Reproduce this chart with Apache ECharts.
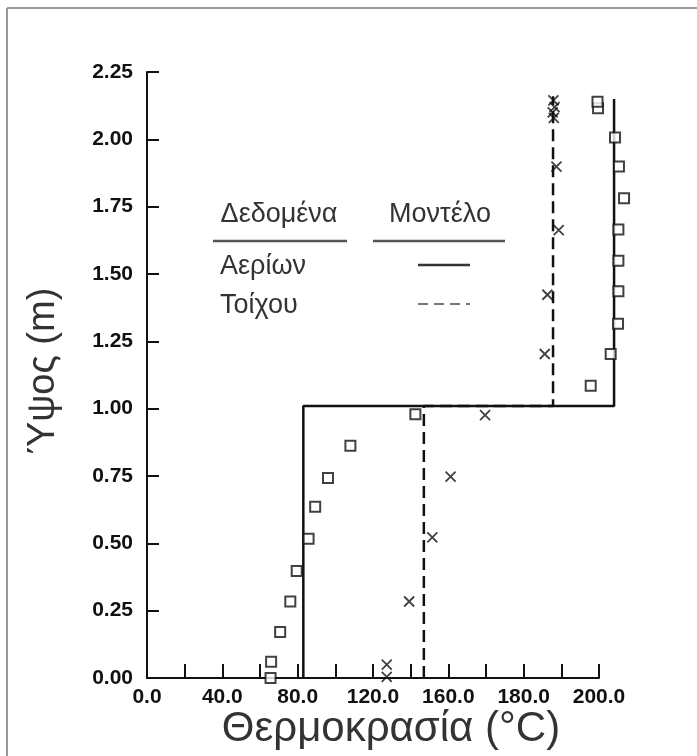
<!DOCTYPE html>
<html>
<head>
<meta charset="utf-8">
<script src="https://cdn.jsdelivr.net/npm/echarts@6/dist/echarts.min.js"></script>
<style>
  html, body { margin: 0; padding: 0; background: #fff; }
  #chart { width: 697px; height: 756px; }
</style>
</head>
<body>
<div id="chart"></div>
<script>
// Temperature axis: ticks every 20 units, labels only on some of them
const xTickValues = [0, 40, 80, 120, 160, 200, 240];
const xTickLabels = ['0.0', '40.0', '80.0', '120.0', '160.0', '180.0', '200.0'];
const yTickValues = [0, 0.25, 0.5, 0.75, 1, 1.25, 1.5, 1.75, 2, 2.25];

// Model profiles [temperature, height]
const gasModel = [[83, 0], [83, 1.01], [248, 1.01], [248, 2.15]];
const wallModel = [[147, 0], [147, 1.01], [215.6, 1.01], [215.6, 2.16]];

// Measured gas temperatures (squares)
const gasData = [
  [65.6, 0.0], [65.9, 0.06], [70.7, 0.171], [76.1, 0.284], [79.5, 0.397],
  [85.8, 0.517], [89.3, 0.636], [96.1, 0.743], [108, 0.862], [142.5, 0.979],
  [235.6, 1.085], [246.2, 1.203], [250.1, 1.315], [250.3, 1.436], [250.3, 1.549],
  [250.3, 1.665], [253.3, 1.781], [250.6, 1.899], [248.5, 2.007], [239.5, 2.115],
  [239.2, 2.14]
];

// Measured wall temperatures (crosses)
const wallData = [
  [127.3, 0.004], [127.3, 0.05], [139.2, 0.284], [151.5, 0.522], [161.2, 0.748],
  [179.5, 0.976], [211.2, 1.203], [212.6, 1.423], [218.6, 1.663], [217.4, 1.899],
  [216, 2.08], [215.4, 2.1], [216.4, 2.12], [215.8, 2.145]
];

const ink = '#111';
const axisMax = 240;       // drawn axis range
const plotMax = 260;       // data range (the upper profiles run past the drawn axis)
const plotLeft = 147, axisWidth = 452;

const chart = echarts.init(document.getElementById('chart'));

const hiddenAxis = {
  show: false, axisLine: { show: false }, axisTick: { show: false },
  axisLabel: { show: false }, splitLine: { show: false }
};

chart.setOption({
  animation: false,
  backgroundColor: '#fff',
  grid: [
    { left: plotLeft, width: axisWidth, top: 72, bottom: 78 },
    { left: plotLeft, width: axisWidth * plotMax / axisMax, top: 72, bottom: 78 }
  ],
  xAxis: [
    {
      gridIndex: 0, type: 'value', min: 0, max: axisMax, interval: 20,
      axisLine: { show: true, onZero: false, lineStyle: { color: ink, width: 2 } },
      axisTick: { show: true, inside: true, length: 14, lineStyle: { color: ink, width: 2 } },
      splitLine: { show: false },
      axisLabel: {
        margin: 9, color: ink, fontFamily: 'Liberation Sans', fontWeight: 'bold', fontSize: 21,
        showMinLabel: true, showMaxLabel: true,
        formatter: v => { const i = xTickValues.indexOf(v); return i >= 0 ? xTickLabels[i] : ''; }
      }
    },
    Object.assign({ gridIndex: 1, type: 'value', min: 0, max: plotMax }, hiddenAxis)
  ],
  yAxis: [
    {
      gridIndex: 0, type: 'value', min: 0, max: 2.25, interval: 0.25,
      axisLine: { show: true, onZero: false, lineStyle: { color: ink, width: 2 } },
      axisTick: { show: true, inside: true, length: 12, lineStyle: { color: ink, width: 2 } },
      splitLine: { show: false },
      axisLabel: {
        margin: 14, color: ink, fontFamily: 'Liberation Sans', fontWeight: 'bold', fontSize: 21,
        showMinLabel: true, showMaxLabel: true,
        formatter: v => yTickValues.indexOf(v) >= 0 ? v.toFixed(2) : ''
      }
    },
    Object.assign({ gridIndex: 1, type: 'value', min: 0, max: 2.25 }, hiddenAxis)
  ],
  series: [
    {
      name: 'Τοίχου (Μοντέλο)', type: 'line', xAxisIndex: 1, yAxisIndex: 1,
      data: wallModel, symbol: 'none', clip: false,
      lineStyle: { color: ink, width: 2.5, type: [12, 6] }, z: 2
    },
    {
      name: 'Αερίων (Μοντέλο)', type: 'line', xAxisIndex: 1, yAxisIndex: 1,
      data: gasModel, symbol: 'none', clip: false,
      lineStyle: { color: ink, width: 2.5 }, z: 3
    },
    {
      name: 'Αερίων', type: 'scatter', xAxisIndex: 1, yAxisIndex: 1,
      data: gasData, clip: false, symbol: 'rect', symbolSize: 10,
      itemStyle: { color: '#fff', borderColor: ink, borderWidth: 2 }, z: 4
    },
    {
      name: 'Τοίχου', type: 'scatter', xAxisIndex: 1, yAxisIndex: 1,
      data: wallData, clip: false, symbol: 'path://M0,0L10,10M10,0L0,10', symbolSize: 10,
      itemStyle: { color: 'none', borderColor: ink, borderWidth: 1.8 }, z: 4
    }
  ],
  graphic: [
    // frame
    { type: 'line', shape: { x1: 7, y1: 8, x2: 697, y2: 8 }, style: { stroke: '#9a9a9a', lineWidth: 2 } },
    { type: 'line', shape: { x1: 7, y1: 8, x2: 7, y2: 756 }, style: { stroke: '#9a9a9a', lineWidth: 2 } },
    // axis titles
    {
      type: 'text', x: 391, y: 729,
      style: { text: 'Θερμοκρασία (°C)', font: '42px "Liberation Sans"', fill: '#333', align: 'center', verticalAlign: 'middle' }
    },
    {
      type: 'text', x: 44, y: 371, rotation: Math.PI / 2,
      style: { text: 'Ύψος (m)', font: '38px "Liberation Sans"', fill: '#333', align: 'center', verticalAlign: 'middle' }
    },
    // key table
    { type: 'text', x: 279, y: 215, style: { text: 'Δεδομένα', font: '27px "Liberation Sans"', fill: '#333', align: 'center', verticalAlign: 'middle' } },
    { type: 'text', x: 440, y: 215, style: { text: 'Μοντέλο', font: '27px "Liberation Sans"', fill: '#333', align: 'center', verticalAlign: 'middle' } },
    { type: 'line', shape: { x1: 213, y1: 241, x2: 347, y2: 241 }, style: { stroke: '#555', lineWidth: 2.5 } },
    { type: 'line', shape: { x1: 373, y1: 241, x2: 505, y2: 241 }, style: { stroke: '#555', lineWidth: 2.5 } },
    { type: 'text', x: 220, y: 267, style: { text: 'Αερίων', font: '27px "Liberation Sans"', fill: '#333', align: 'left', verticalAlign: 'middle' } },
    { type: 'text', x: 220, y: 306, style: { text: 'Τοίχου', font: '27px "Liberation Sans"', fill: '#333', align: 'left', verticalAlign: 'middle' } },
    { type: 'line', shape: { x1: 418, y1: 265, x2: 470, y2: 265 }, style: { stroke: '#333', lineWidth: 2.5 } },
    { type: 'line', shape: { x1: 418, y1: 304, x2: 470, y2: 304 }, style: { stroke: '#777', lineWidth: 2, lineDash: [10, 6] } }
  ]
});
</script>
</body>
</html>
